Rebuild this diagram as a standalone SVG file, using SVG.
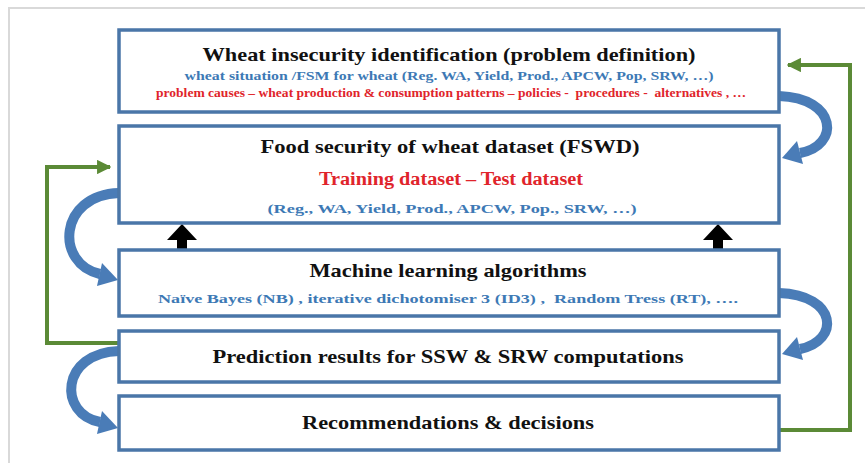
<svg xmlns="http://www.w3.org/2000/svg" width="865" height="463" viewBox="0 0 865 463">
  <defs>
    <style>
      .box { fill: #ffffff; stroke: #4a76a8; stroke-width: 3.5; }
      .t { font-family: "Liberation Serif", "Times New Roman", serif; font-weight: bold; text-anchor: middle; }
      .title { font-size: 19px; fill: #111111; }
      .blue { font-size: 13px; fill: #3d79b5; }
      .red { fill: #e0242b; }
      .loop { fill: none; stroke: #5b8a36; stroke-width: 4; }
      .bend { fill: none; stroke: #4a7cb7; stroke-width: 10; }
      .bendhead { fill: #4a7cb7; }
      .up { fill: #000000; }
    </style>
    <marker id="gHead" viewBox="0 0 10 10" refX="9" refY="5" markerWidth="3.6" markerHeight="3.6" orient="auto">
      <path d="M0,0 L10,5 L0,10 Z" fill="#5b8a36"/>
    </marker>
  </defs>

  <rect width="865" height="463" fill="#ffffff"/>
  <!-- outer frame -->
  <path d="M9,463 L9,8 L865,8" fill="none" stroke="#d9d9d9" stroke-width="2"/>

  <!-- connectors -->
  <g id="connectors">
    <!-- green feedback loops -->
    <polyline class="loop" points="118,343 47,343 47,167 110,167" marker-end="url(#gHead)"/>
    <polyline class="loop" points="780,430 850,430 850,65 788,65" marker-end="url(#gHead)"/>

    <!-- curved blue arrows, right side -->
    <path class="bend" d="M779,96 C838,98 840,146 800,153"/>
    <polygon class="bendhead" points="782,158 803,164 797,141"/>
    <path class="bend" d="M779,293 C838,295 840,341 800,349"/>
    <polygon class="bendhead" points="782,354 803,360 797,337"/>

    <!-- curved blue arrows, left side -->
    <path class="bend" d="M119,193 C58,195 55,264 100,274"/>
    <polygon class="bendhead" points="118,280 97,286 102,263"/>
    <path class="bend" d="M119,351 C60,353 58,414 100,422"/>
    <polygon class="bendhead" points="118,428 97,434 102,411"/>

    <!-- upward arrows from algorithms to dataset -->
    <polygon class="up" points="177,249 187,249 187,240 197,240 182,224 167,240 177,240"/>
    <polygon class="up" points="713,249 723,249 723,240 733,240 718,224 703,240 713,240"/>
  </g>

  <g id="problem-definition">
    <rect class="box" x="119" y="30" width="660" height="82"/>
    <text class="t title" x="449" y="61" textLength="493" lengthAdjust="spacingAndGlyphs">Wheat insecurity identification (problem definition)</text>
    <text class="t blue" x="449" y="80" textLength="529" lengthAdjust="spacingAndGlyphs">wheat situation /FSM for wheat (Reg. WA, Yield, Prod., APCW, Pop, SRW, …)</text>
    <text class="t red" x="451" y="97" font-size="11.5" textLength="590" lengthAdjust="spacingAndGlyphs" xml:space="preserve">problem causes – wheat production &amp; consumption patterns – policies -  procedures -  alternatives , …</text>
  </g>

  <g id="dataset">
    <rect class="box" x="119" y="126" width="660" height="97"/>
    <text class="t title" x="450" y="153" font-size="18" textLength="379" lengthAdjust="spacingAndGlyphs">Food security of wheat dataset (FSWD)</text>
    <text class="t red" x="451" y="185" font-size="18" textLength="264" lengthAdjust="spacingAndGlyphs">Training dataset – Test dataset</text>
    <text class="t blue" x="452" y="213" textLength="369" lengthAdjust="spacingAndGlyphs">(Reg., WA, Yield, Prod., APCW, Pop., SRW, …)</text>
  </g>

  <g id="algorithms">
    <rect class="box" x="119" y="250" width="660" height="66"/>
    <text class="t title" x="448" y="277" font-size="18" textLength="277" lengthAdjust="spacingAndGlyphs">Machine learning algorithms</text>
    <text class="t blue" x="448" y="303" textLength="580" lengthAdjust="spacingAndGlyphs" xml:space="preserve">Naïve Bayes (NB) , iterative dichotomiser 3 (ID3) ,  Random Tress (RT), ….</text>
  </g>

  <g id="prediction">
    <rect class="box" x="119" y="331" width="660" height="51"/>
    <text class="t title" x="448" y="363" font-size="18" textLength="471" lengthAdjust="spacingAndGlyphs">Prediction results for SSW &amp; SRW computations</text>
  </g>

  <g id="recommendations">
    <rect class="box" x="119" y="396" width="660" height="54"/>
    <text class="t title" x="448" y="429" font-size="18" textLength="292" lengthAdjust="spacingAndGlyphs">Recommendations &amp; decisions</text>
  </g>
</svg>
